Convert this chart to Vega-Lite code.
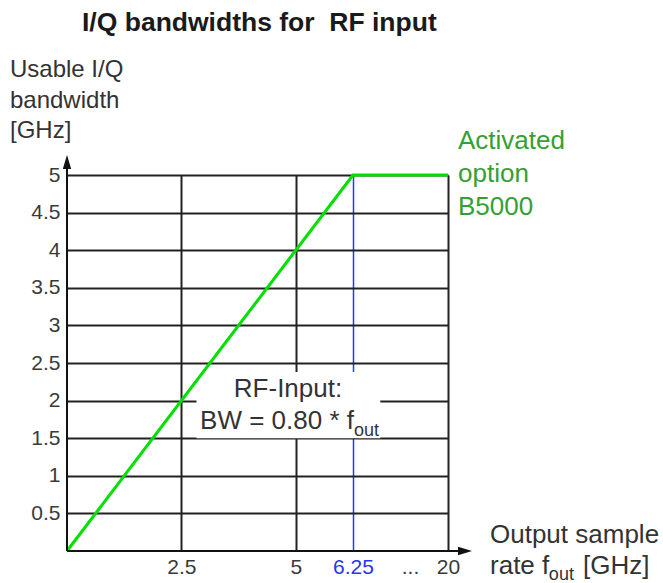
{
  "$schema": "https://vega.github.io/schema/vega-lite/v6.json",
  "width": 381,
  "height": 376,
  "autosize": {"type": "none"},
  "padding": {"left": 67, "top": 175, "right": 215, "bottom": 32},
  "background": "white",
  "title": {
    "text": "I/Q bandwidths for\u00a0 RF input",
    "anchor": "start",
    "frame": "group",
    "font": "Liberation Sans",
    "fontSize": 26.5,
    "fontWeight": "bold",
    "color": "#1a1a1a",
    "baseline": "alphabetic",
    "dx": 15,
    "offset": 1
  },
  "config": {
    "view": {"stroke": null},
    "font": "Liberation Sans"
  },
  "datasets": {
    "curve": [
      {"x": 0, "y": 0},
      {"x": 6.25, "y": 5},
      {"x": 20, "y": 5}
    ],
    "box": [
      {"x": 2.83, "x2": 10.2, "y": 2.38, "y2": 1.5}
    ],
    "axes": [
      {"x": 0, "y": 0, "x2": 0, "y2": 5.2},
      {"x": 0, "y": 0, "x2": 22.0, "y2": 0}
    ],
    "arrowUp": [{"x": 0, "y": 5.173}],
    "arrowRight": [{"x": 22.46, "y": 0}],
    "green": [{"x": 21.45, "y": 5.342, "t": "Activated\noption\nB5000"}],
    "ytitle": [{"x": -1.246, "y": 6.3, "t": "Usable I/Q\nbandwidth\n[GHz]"}],
    "center": [{"x": 4.83, "y": 2.048, "t": "RF-Input:"}],
    "right": [{"x": 6.39, "y": 1.622, "t": "BW = 0.80 * f"}],
    "left": [
      {"x": 26.08, "y": 0.106, "t": "Output sample"},
      {"x": 26.08, "y": -0.306, "t": "rate f"},
      {"x": 39.53, "y": -0.306, "t": "[GHz]"}
    ],
    "sub": [
      {"x": 6.39, "y": 1.53, "t": "out"},
      {"x": 34.6, "y": -0.386, "t": "out"}
    ]
  },
  "encoding": {
    "x": {
      "field": "x",
      "type": "quantitative",
      "scale": {"type": "linear", "domain": [0, 6.25, 20], "range": [0, 286, 381], "nice": false, "zero": false},
      "axis": {
        "values": [2.5, 5, 6.25, 14.5, 20],
        "labelExpr": "datum.value == 14.5 ? '...' : '' + datum.value",
        "title": null,
        "domain": false,
        "ticks": false,
        "labelFontSize": 21,
        "labelPadding": 5,
        "labelColor": {"condition": {"test": "datum.value == 6.25", "value": "#2b35f0"}, "value": "#3a3a3a"},
        "labelFlush": false,
        "labelOverlap": false,
        "grid": true,
        "gridColor": {"condition": {"test": "datum.value == 6.25", "value": "#2b35ff"}, "value": "#222222"},
        "gridWidth": {"condition": {"test": "datum.value == 6.25", "value": 1.5}, "value": 2},
        "gridOpacity": {"condition": {"test": "datum.value == 14.5", "value": 0}, "value": 1}
      }
    },
    "y": {
      "field": "y",
      "type": "quantitative",
      "scale": {"domain": [0, 5], "nice": false, "zero": false},
      "axis": {
        "values": [0.5, 1, 1.5, 2, 2.5, 3, 3.5, 4, 4.5, 5],
        "labelExpr": "'' + datum.value",
        "title": null,
        "domain": false,
        "ticks": false,
        "labelFontSize": 21,
        "labelPadding": 7,
        "labelColor": "#3a3a3a",
        "labelFlush": false,
        "labelOverlap": false,
        "grid": true,
        "gridColor": "#222222",
        "gridWidth": 2
      }
    }
  },
  "layer": [
    {
      "data": {"name": "box"},
      "mark": {"type": "rect", "fill": "white", "stroke": null},
      "encoding": {"x2": {"field": "x2"}, "y2": {"field": "y2"}}
    },
    {
      "data": {"name": "curve"},
      "mark": {"type": "line", "color": "#00e000", "strokeWidth": 3}
    },
    {
      "data": {"name": "axes"},
      "mark": {"type": "rule", "color": "#111111", "strokeWidth": 2},
      "encoding": {"x2": {"field": "x2"}, "y2": {"field": "y2"}}
    },
    {
      "data": {"name": "arrowUp"},
      "mark": {"type": "point", "shape": "M-0.6,1L0,-1L0.6,1Z", "filled": true, "color": "#111111", "opacity": 1, "size": 196}
    },
    {
      "data": {"name": "arrowRight"},
      "mark": {"type": "point", "shape": "M-1,-0.6L1,0L-1,0.6Z", "filled": true, "color": "#111111", "opacity": 1, "size": 196}
    },
    {
      "data": {"name": "green"},
      "mark": {"type": "text", "align": "left", "baseline": "alphabetic", "fontSize": 26, "color": "#34a034", "lineBreak": "\n", "lineHeight": 33},
      "encoding": {"text": {"field": "t"}}
    },
    {
      "data": {"name": "ytitle"},
      "mark": {"type": "text", "align": "left", "baseline": "alphabetic", "fontSize": 24, "color": "#333333", "lineBreak": "\n", "lineHeight": 30.5},
      "encoding": {"text": {"field": "t"}}
    },
    {
      "data": {"name": "center"},
      "mark": {"type": "text", "align": "center", "baseline": "alphabetic", "fontSize": 26, "color": "#333333"},
      "encoding": {"text": {"field": "t"}}
    },
    {
      "data": {"name": "right"},
      "mark": {"type": "text", "align": "right", "baseline": "alphabetic", "fontSize": 26, "color": "#333333"},
      "encoding": {"text": {"field": "t"}}
    },
    {
      "data": {"name": "left"},
      "mark": {"type": "text", "align": "left", "baseline": "alphabetic", "fontSize": 26, "color": "#333333"},
      "encoding": {"text": {"field": "t"}}
    },
    {
      "data": {"name": "sub"},
      "mark": {"type": "text", "align": "left", "baseline": "alphabetic", "fontSize": 18, "color": "#333333"},
      "encoding": {"text": {"field": "t"}}
    }
  ]
}
